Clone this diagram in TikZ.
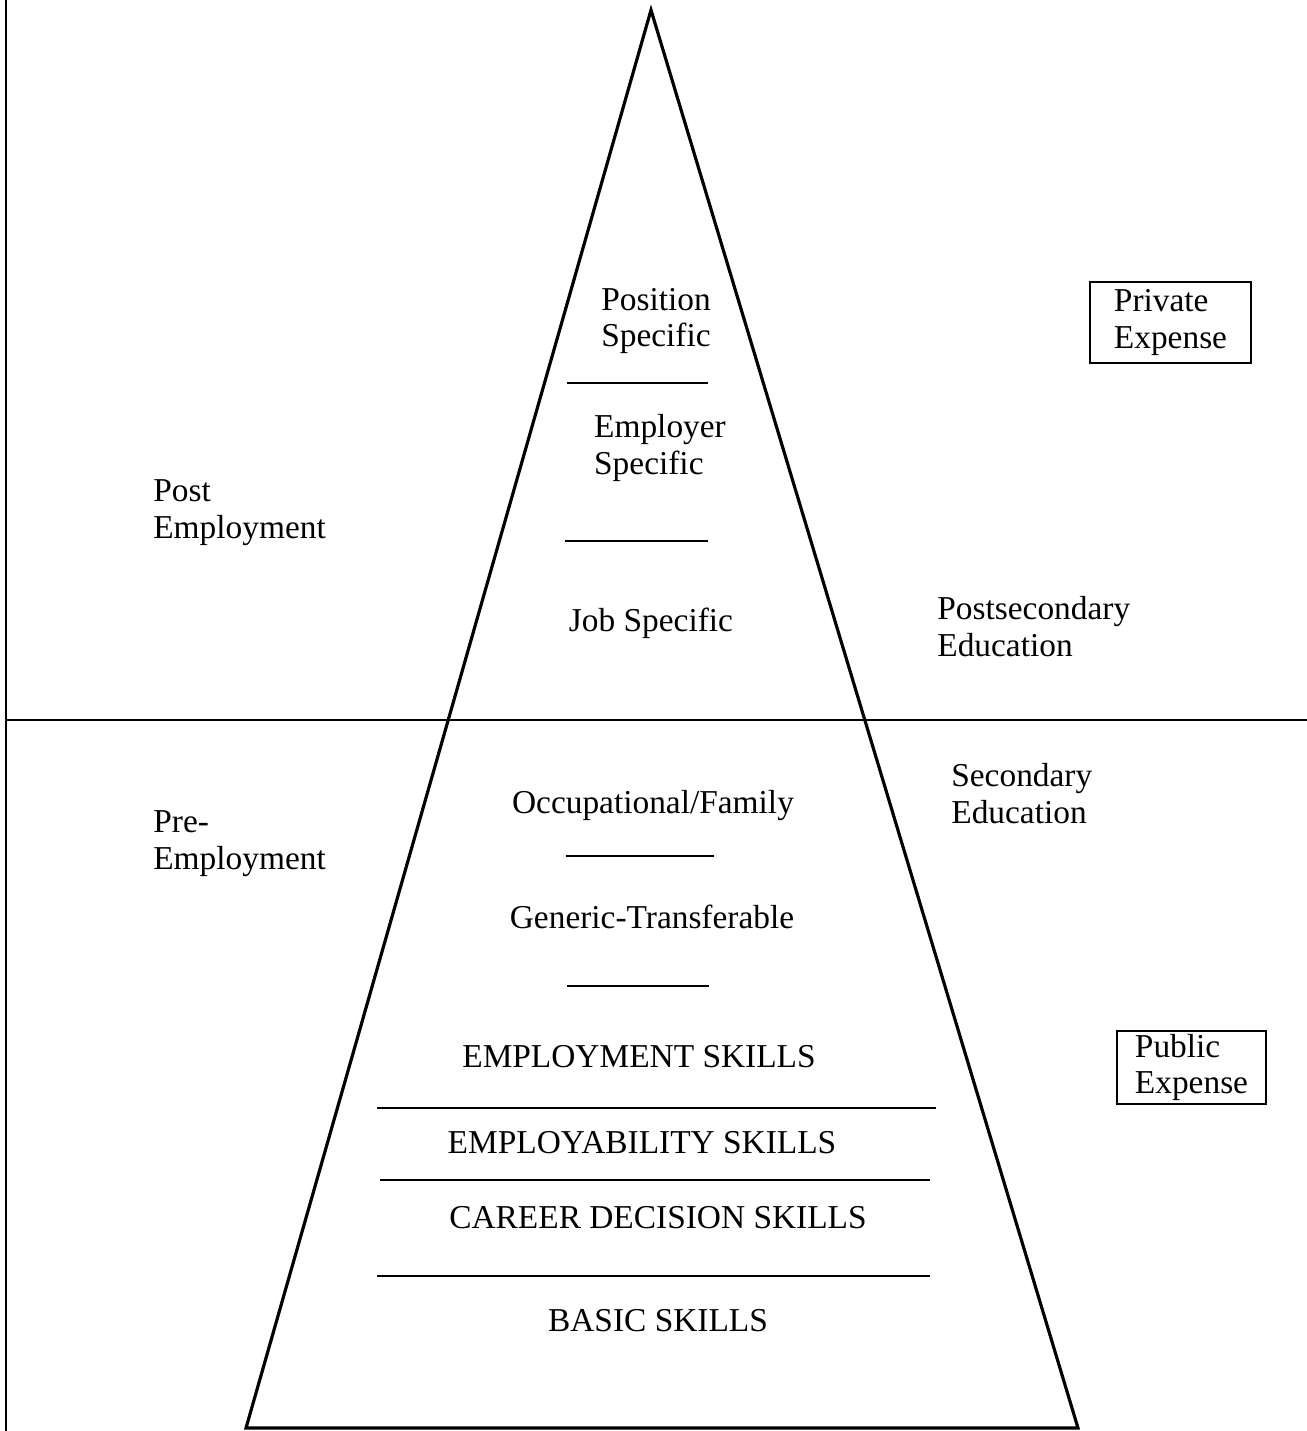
\documentclass[tikz,border=0pt]{standalone}
\usepackage{fontspec}
\setmainfont{Liberation Serif}
\usetikzlibrary{positioning}

\begin{document}
\begin{tikzpicture}[
      x=0.02cm, y=-0.02cm,
      every node/.style={font=\fontsize{19}{21}\selectfont, inner sep=0pt},
      tier/.style={align=center},
      side/.style={align=left, anchor=west},
      expense/.style={draw, line width=1pt, align=left},
      frame/.style={line width=1.2pt},
      pyramid/.style={line width=1.8pt, line join=miter},
      sep/.style={line width=1.2pt},
  ]
  \useasboundingbox (0,0) rectangle (1307,1431);

  % Frame: left edge and the employment divide
  \draw[frame] (6,0) -- (6,1431);
  \draw[frame] (6,720) -- (1307,720);

  % Pyramid
  \coordinate (apex) at (651,10);
  \coordinate (bl) at (246,1428);
  \coordinate (br) at (1078,1428);
  \draw[pyramid] (apex) -- (br) -- (bl) -- cycle;

  % Short dividers in the upper tiers
  \draw[sep] (567,383) -- (708,383);
  \draw[sep] (565,541) -- (708,541);
  \draw[sep] (566,856) -- (714,856);
  \draw[sep] (567,986) -- (709,986);

  % Long dividers in the skills base
  \draw[sep] (377,1108) -- (936,1108);
  \draw[sep] (380,1180) -- (930,1180);
  \draw[sep] (377,1276) -- (930,1276);

  % Tiers
  \node[tier] (position) at (656,321) {Position\\Specific};
  \node[tier, align=left] (employer) at (660,448) {Employer\\Specific};
  \node[tier] (job) at (651,623) {Job Specific};
  \node[tier] (occup) at (653,806) {Occupational/Family};
  \node[tier] (generic) at (652,917) {Generic-Transferable};
  \node[tier] (employment) at (639,1057) {EMPLOYMENT SKILLS};
  \node[tier] (employability) at (642,1143) {EMPLOYABILITY SKILLS};
  \node[tier] (career) at (658,1218) {CAREER DECISION SKILLS};
  \node[tier] (basic) at (658,1321) {BASIC SKILLS};

  % Stages on the left
  \node[side] (post) at (153,513) {Post\\Employment};
  \node[side] (pre) at (153,844) {Pre-\\Employment};

  % Education on the right
  \node[side] (postsec) at (937,627) {Postsecondary\\Education};
  \node[side] (sec) at (951,794) {Secondary\\Education};

  % Who pays
  \node[expense, minimum width=3.22cm, minimum height=1.62cm] (private)
    at (1170.5,322.5) {Private\\Expense};
  \node[expense, minimum width=2.98cm, minimum height=1.46cm] (public)
    at (1191.5,1067.5) {Public\\Expense};
  \end{tikzpicture}
\end{document}
